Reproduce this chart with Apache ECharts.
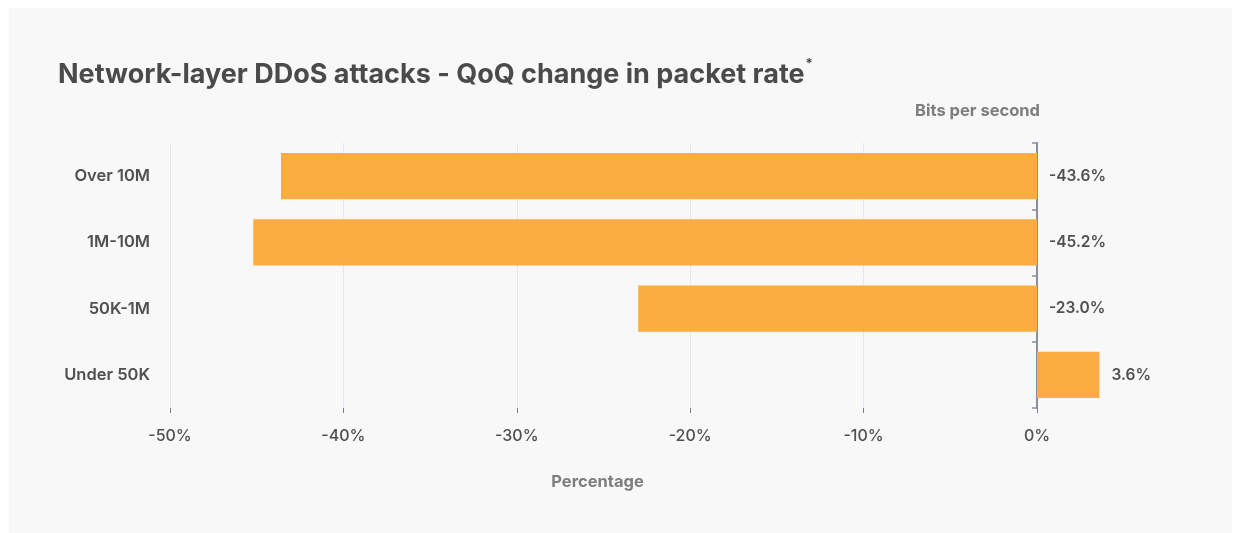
<!DOCTYPE html>
<html>
<head>
<meta charset="utf-8">
<title>Network-layer DDoS attacks - QoQ change in packet rate</title>
<script src="https://cdn.jsdelivr.net/npm/echarts@6/dist/echarts.min.js"></script>
<style>
  html, body { margin: 0; padding: 0; background: #ffffff; }
  #chart {
    position: absolute;
    left: 9px;
    top: 8px;
    width: 1223px;
    height: 525px;
    background: #f8f8f8;
  }
</style>
</head>
<body>
<div id="chart"></div>
<script>
// Packet-rate buckets, listed bottom to top as the category axis draws them
const categories = ['Under 50K', '50K-1M', '1M-10M', 'Over 10M'];
// Quarter-over-quarter change, percent
const changeValues = [3.6, -23.0, -45.2, -43.6];
// Percentage axis range and step
const axisMin = -50;
const axisMax = 0;
const axisStep = 10;

const FONT = 'Inter, "Noto Sans", sans-serif';
const BAR_COLOR = '#fbad41';
const TEXT_DARK = '#505050';
const TEXT_MUTED = '#7d7d7d';
const AXIS_GRAY = '#8b8f99';

const chart = echarts.init(document.getElementById('chart'), null, { renderer: 'canvas' });

chart.setOption({
  backgroundColor: '#f8f8f8',
  animation: false,
  textStyle: { fontFamily: FONT },
  title: {
    text: '{t|Network-layer DDoS attacks - QoQ change in packet rate}{s|*}',
    left: 49,
    top: 50,
    padding: 0,
    textStyle: {
      rich: {
        t: { fontFamily: FONT, fontSize: 27, fontWeight: 700, color: '#4a4a4a', lineHeight: 34 },
        s: { fontFamily: FONT, fontSize: 13, fontWeight: 700, color: '#4a4a4a', verticalAlign: 'top', lineHeight: 34, padding: [0, 0, 14, 1] }
      }
    }
  },
  grid: { left: 161, right: 195, top: 135, bottom: 125, containLabel: false },
  xAxis: {
    type: 'value',
    min: axisMin,
    max: axisMax,
    interval: axisStep,
    name: 'Percentage',
    nameLocation: 'middle',
    nameGap: 66,
    nameTextStyle: { fontFamily: FONT, fontSize: 16.5, fontWeight: 700, color: TEXT_MUTED, padding: [0, 12, 0, 0] },
    axisLine: { show: false },
    axisTick: { show: true, length: 5, lineStyle: { color: '#7a7f88', width: 1 } },
    axisLabel: {
      margin: 20,
      fontFamily: FONT,
      fontSize: 16,
      fontWeight: 500,
      color: TEXT_DARK,
      formatter: v => v + '%'
    },
    splitLine: { show: true, lineStyle: { color: '#e2e6ee', width: 1 } }
  },
  yAxis: [
    {
      type: 'category',
      data: categories,
      position: 'left',
      axisLine: { show: false },
      axisTick: { show: false },
      axisLabel: { margin: 20, fontFamily: FONT, fontSize: 16.5, fontWeight: 600, color: TEXT_DARK }
    },
    {
      type: 'category',
      data: categories,
      position: 'right',
      name: 'Bits per second',
      nameLocation: 'end',
      nameGap: 32,
      nameTextStyle: { fontFamily: FONT, fontSize: 16.5, fontWeight: 700, color: TEXT_MUTED, align: 'right', verticalAlign: 'middle', padding: [0, -3, 0, 0] },
      axisLine: { show: true, lineStyle: { color: AXIS_GRAY, width: 2 } },
      axisTick: { show: true, inside: true, length: 5, lineStyle: { color: AXIS_GRAY, width: 1.5 } },
      axisLabel: { show: false }
    }
  ],
  series: [
    {
      type: 'bar',
      yAxisIndex: 0,
      data: changeValues,
      barCategoryGap: '30%',
      clip: false,
      itemStyle: { color: BAR_COLOR },
      label: {
        show: true,
        position: 'right',
        distance: 12,
        fontFamily: FONT,
        fontSize: 15.5,
        fontWeight: 600,
        color: TEXT_DARK,
        formatter: p => p.value.toFixed(1) + '%'
      },
      z: 1
    }
  ]
});
</script>
</body>
</html>
